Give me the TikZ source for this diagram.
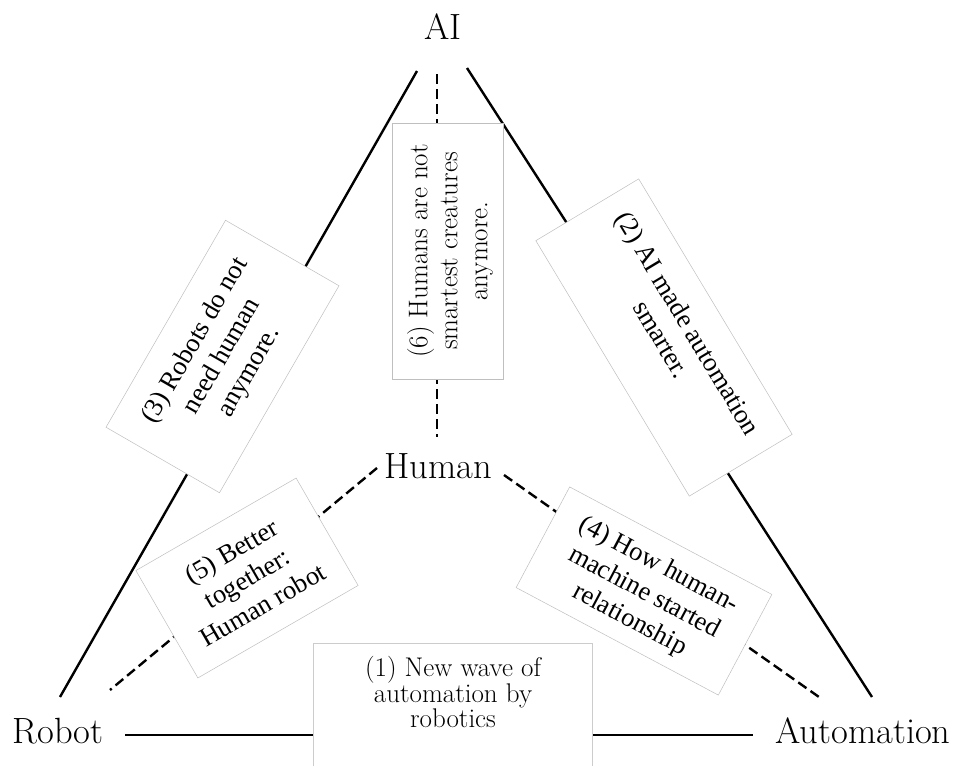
\documentclass[tikz,border=0pt]{standalone}
\usepackage{fontspec}
\newfontfamily\timesf{Liberation Serif}
\begin{document}
\begin{tikzpicture}[x=1pt,y=-1pt,
  lbl/.style={font=\fontsize{36.5}{40}\selectfont, inner sep=0pt, anchor=base},
  sline/.style={line width=2.4pt},
  dline/.style={line width=2.4pt, dash pattern=on 10pt off 5pt},
  box/.style={draw=gray!50, line width=0.5pt, fill=white, inner sep=0pt},
  ttext/.style={font={\timesf\fontsize{26.5}{31}\selectfont}, align=center, inner sep=0pt},
  ltext/.style={font={\fontsize{27}{30}\selectfont}, align=center, inner sep=0pt}
]
\useasboundingbox (0,0) rectangle (954,766);

% labels
\node[lbl] (AI) at (443,39) {AI};
\node[lbl] (Human) at (438,478) {Human};
\node[lbl] (Robot) at (58,743) {Robot};
\node[lbl] (Automation) at (863,743) {Automation};

% connector end points
\coordinate (ai-l) at (417,71);
\coordinate (ai-r) at (467,68);
\coordinate (ai-d) at (437,74);
\coordinate (ro-u) at (60,697);
\coordinate (ro-r) at (125,735);
\coordinate (ro-h) at (110,690);
\coordinate (au-u) at (872,697);
\coordinate (au-l) at (753,735);
\coordinate (au-h) at (819,697);
\coordinate (hu-u) at (437,437);
\coordinate (hu-l) at (377,468);
\coordinate (hu-r) at (504,475);

% connectors
\draw[sline] (ai-l) -- (ro-u);
\draw[sline] (ai-r) -- (au-u);
\draw[sline] (ro-r) -- (au-l);
\draw[dline] (ai-d) -- (hu-u);
\draw[dline] (hu-l) -- (ro-h);
\draw[dline] (hu-r) -- (au-h);

% boxes
\node[box, minimum width=239pt, minimum height=131pt, rotate=60] (b3) at (222.5,356.5) {};
\node[ttext, rotate=60] (t3) at (222.5,356.5) {(3) Robots do not\\need human\\anymore.};

\node[box, minimum width=298pt, minimum height=120pt, rotate=-59] (b2) at (664,337.5) {};
\node[ttext, rotate=-59] (t2) at (675,331) {(2) AI made automation\\smarter.};

\node[box, minimum width=229pt, minimum height=114pt, rotate=-28] (b4) at (644,591) {};
\node[ttext, rotate=-28] (t4) at (644,593) {(4) How human-\\machine started\\relationship};

\node[box, minimum width=185pt, minimum height=124pt, rotate=30] (b5) at (247,578) {};
\node[ttext, rotate=30] (t5) at (247,578) {(5) Better\\together:\\Human robot};

\node[box, minimum width=256pt, minimum height=111pt, rotate=90] (b6) at (448,251) {};
\node[ltext, rotate=90] (t6) at (450,251) {(6) Humans are not\\smartest creatures\\anymore.};

\fill[white] (313,643) rectangle (592,770);
\draw[gray!40, line width=0.7pt] (313,770) -- (313,643) -- (592,643) -- (592,770);
\node[ltext, font={\fontsize{27}{25.5}\selectfont}] (t1) at (453,692) {(1) New wave of\\automation by\\robotics};
\end{tikzpicture}
\end{document}
